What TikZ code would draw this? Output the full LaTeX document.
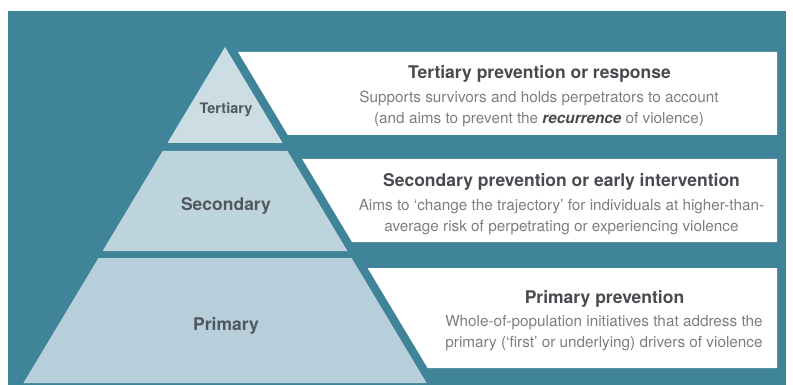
\documentclass[tikz,border=0pt]{standalone}
\usepackage{fontspec}
\setmainfont{TeX Gyre Heros}
\definecolor{teal0}{HTML}{3F8499}
\definecolor{pyrT}{HTML}{CCDDE4}
\definecolor{pyrS}{HTML}{BFD5DE}
\definecolor{pyrP}{HTML}{B6CFDA}
\definecolor{titlec}{HTML}{474B4F}
\definecolor{bodyc}{HTML}{7C7F82}
\definecolor{labelc}{HTML}{50585E}
\tikzset{
  lvl/.style={font=\bfseries\fontsize{17.5}{20}\selectfont, text=labelc, inner sep=0pt, anchor=base},
  lvlsmall/.style={lvl, font=\bfseries\fontsize{14.5}{17}\selectfont},
  ttl/.style={font=\bfseries\fontsize{17.5}{20}\selectfont, text=titlec, inner sep=0pt, anchor=base},
  bdy/.style={font=\fontsize{15.3}{20}\selectfont, text=bodyc, inner sep=0pt, anchor=base},
  boxfill/.style={fill=white, draw=none},
}
\begin{document}
\begin{tikzpicture}[x=1pt,y=-1pt]
\useasboundingbox (0,0) rectangle (793,385);
\fill[white] (0,0) rectangle (793,385);
\fill[teal0] (8,11) rectangle (786,385);
% pyramid
\fill[pyrT] (225,47) -- (282.6,143) -- (167.4,143) -- cycle;
\fill[pyrS] (162.6,151) -- (287.4,151) -- (347.4,251) -- (102.6,251) -- cycle;
\fill[pyrP] (98.4,258) -- (351.6,258) -- (426.6,383) -- (23.4,383) -- cycle;
% boxes
\fill[boxfill] (238,52) -- (777,52) -- (777,135) -- (287.8,135) -- cycle;
\fill[boxfill] (302.2,159) -- (777,159) -- (777,242) -- (352,242) -- cycle;
\fill[boxfill] (367.6,268) -- (777,268) -- (777,368) -- (427.6,368) -- cycle;
% pyramid labels
\node[lvlsmall] (lt) at (226,113.5) {Tertiary};
\node[lvl] (ls) at (226,210.8) {Secondary};
\node[lvl] (lp) at (226,330.8) {Primary};
% box texts
\node[ttl] (tt) at (539.5,79) {Tertiary prevention or response};
\node[bdy] (tb1) at (539,103) {Supports survivors and holds perpetrators to account};
\node[bdy] (tb2) at (539,123.5) {(and aims to prevent the \textbf{\textit{\color{titlec}recurrence}} of violence)};
\node[ttl] (st) at (561.5,186) {Secondary prevention or early intervention};
\node[bdy] (sb1) at (561.5,211) {Aims to ‘change the trajectory’ for individuals at higher-than-};
\node[bdy] (sb2) at (561.5,231.5) {average risk of perpetrating or experiencing violence};
\node[ttl] (pt) at (604.5,303.5) {Primary prevention};
\node[bdy] (pb1) at (604,326) {Whole-of-population initiatives that address the};
\node[bdy] (pb2) at (604,347) {primary (‘first’ or underlying) drivers of violence};
\end{tikzpicture}
\end{document}
